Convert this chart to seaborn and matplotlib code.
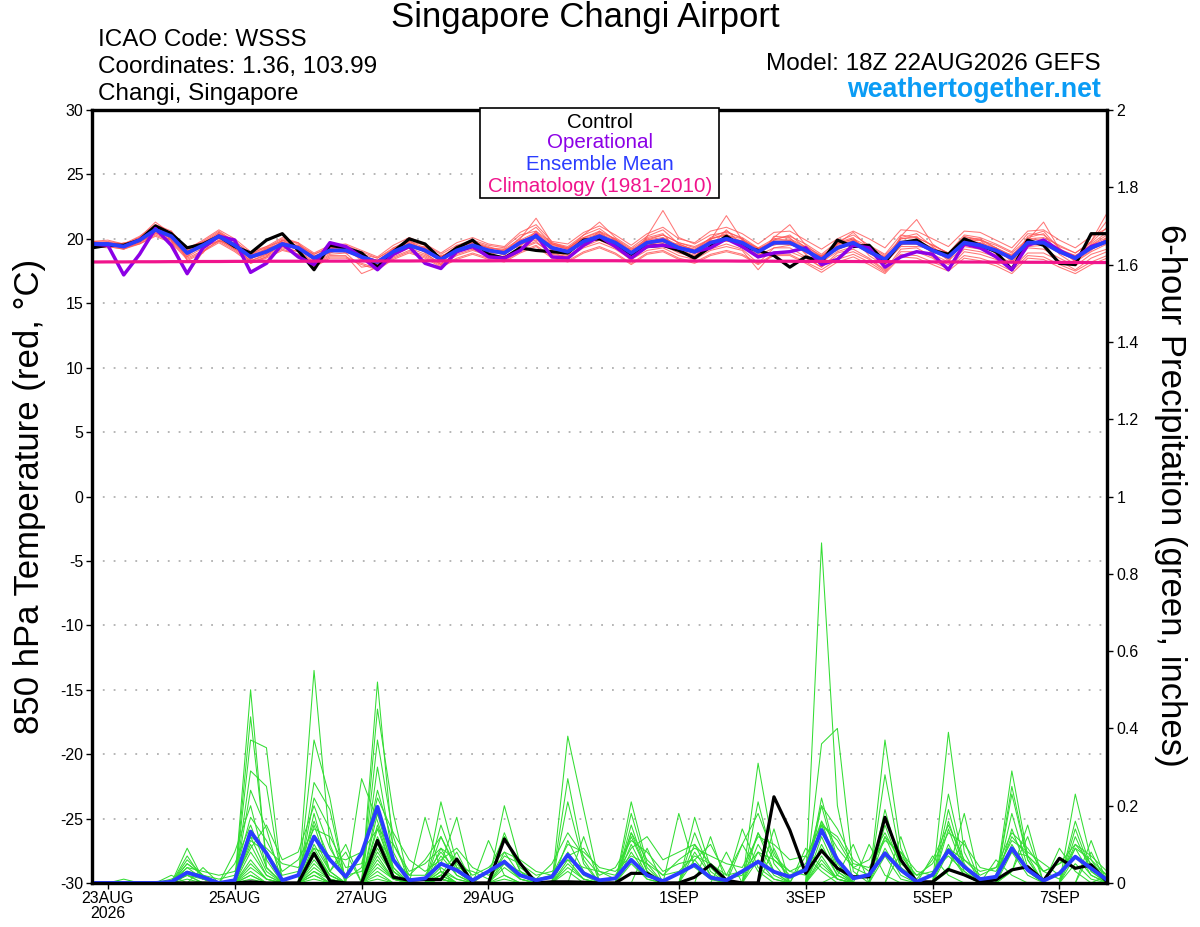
import numpy as np
import pandas as pd
import matplotlib
matplotlib.use("Agg")
import matplotlib.pyplot as plt
import seaborn as sns
from matplotlib.patches import Rectangle

# ---------------- data ----------------
run_start = "2026-08-22 18:00"
n_steps = 65
tick_dates = ["2026-08-23", "2026-08-25", "2026-08-27", "2026-08-29",
              "2026-09-01", "2026-09-03", "2026-09-05", "2026-09-07"]
tick_labels = ["23AUG\n2026", "25AUG", "27AUG", "29AUG", "1SEP", "3SEP", "5SEP", "7SEP"]
temp_ticks = [30, 25, 20, 15, 10, 5, 0, -5, -10, -15, -20, -25, -30]
precip_ticks = [0, 0.2, 0.4, 0.6, 0.8, 1, 1.2, 1.4, 1.6, 1.8, 2]
precip_ticklabels = ["0", "0.2", "0.4", "0.6", "0.8", "1", "1.2", "1.4", "1.6", "1.8", "2"]

# 850 hPa temperature, tenths of deg C
temp_control = [193,195,195,199,210,204,193,196,202,194,189,199,204,191,176,195,193,189,178,190,200,196,184,
                193,199,188,185,193,191,190,189,199,200,195,188,194,195,191,185,194,202,194,191,187,
                178,186,182,199,194,195,182,197,199,191,188,200,195,190,176,199,195,181,180,204,204]
temp_operational = [196,195,172,188,208,195,173,193,202,199,174,181,196,186,180,197,194,186,176,188,194,181,177,
                    190,194,186,185,191,203,186,185,195,202,194,185,194,195,193,190,193,200,194,186,189,
                    190,193,180,184,195,193,178,186,190,188,176,196,193,186,176,195,199,191,185,194,198]
temp_mean = [196,196,194,199,207,202,189,195,202,195,186,190,196,193,185,191,191,186,182,190,195,191,184,
             191,195,191,189,197,202,193,190,198,202,197,189,197,199,193,190,197,200,197,190,197,
             197,191,184,193,197,190,184,197,197,191,186,197,195,191,185,197,197,190,185,193,198]
temp_climatology = [18.20,18.21,18.21,18.22,18.22,18.23,18.23,18.24,18.24,18.25,
                    18.25,18.26,18.26,18.26,18.27,18.27,18.27,18.28,18.28,18.28,
                    18.28,18.29,18.29,18.29,18.29,18.29,18.30,18.30,18.30,18.30,
                    18.30,18.30,18.30,18.30,18.29,18.29,18.29,18.29,18.28,18.28,
                    18.28,18.27,18.27,18.26,18.26,18.25,18.25,18.24,18.24,18.23,
                    18.23,18.22,18.22,18.21,18.21,18.20,18.20,18.19,18.19,18.18,
                    18.18,18.17,18.17,18.16,18.16]
temp_members = [
    [197,198,196,201,213,204,187,197,205,196,184,192,199,194,183,193,194,188,180,192,198,193,186,
     193,198,194,190,201,209,196,192,203,208,199,188,202,207,196,191,201,206,200,188,199,
     203,193,182,196,205,193,182,201,204,194,184,201,200,193,183,202,206,192,183,198,214],
    [195,194,192,197,205,199,172,190,199,193,183,188,194,190,181,188,189,178,180,187,193,188,181,
     188,192,188,186,193,198,188,186,194,199,193,185,193,195,189,186,192,196,192,181,193,
     193,186,178,189,192,185,176,192,193,186,180,192,190,186,178,193,192,185,179,188,192],
    [197,197,195,200,209,203,191,197,204,198,188,192,197,195,188,194,192,185,183,192,197,192,186,
     194,197,193,192,200,216,197,193,201,205,200,190,199,203,197,194,200,203,198,187,201,
     211,195,186,196,200,189,181,202,215,196,188,198,199,193,187,199,200,190,183,191,201],
    [196,197,195,198,206,201,190,194,201,194,187,189,195,192,184,190,190,187,183,189,194,190,183,
     190,194,190,188,196,201,192,189,197,201,196,188,196,198,192,189,196,199,196,190,196,
     196,190,185,192,196,189,185,196,196,190,185,196,194,190,184,196,196,189,186,192,197],
    [198,197,195,201,210,205,193,198,206,198,189,193,200,196,188,193,195,190,185,193,198,195,188,
     195,199,195,193,203,206,197,194,203,213,201,193,202,222,201,196,203,205,201,193,200,
     202,196,188,198,203,195,188,203,201,195,189,203,201,196,190,204,203,194,189,198,220],
    [195,195,193,197,204,199,186,193,199,192,183,187,193,190,180,187,187,173,178,186,191,187,180,
     187,191,187,184,192,197,189,186,193,197,192,184,191,193,187,184,191,194,191,176,190,
     190,185,178,187,190,184,175,190,190,185,177,190,188,184,177,189,189,183,176,185,190],
    [197,196,194,200,208,202,190,196,203,196,187,191,197,194,186,192,192,187,183,191,196,192,185,
     192,196,192,190,198,204,195,192,200,204,199,191,199,201,195,192,199,218,199,192,198,
     199,193,186,195,199,192,186,198,199,193,188,199,197,193,187,199,213,192,187,195,201],
    [195,196,193,198,206,201,188,195,201,194,185,189,195,192,184,190,190,185,181,189,194,190,183,
     190,194,190,188,196,201,192,189,197,201,196,188,196,198,192,189,196,199,196,189,196,
     196,190,183,192,196,189,183,196,196,190,185,196,194,190,184,196,196,189,184,192,197],
    [198,199,196,202,211,206,192,199,207,200,190,194,201,197,189,195,196,191,186,195,201,196,189,
     197,201,196,194,205,211,198,196,205,210,203,195,204,209,200,197,206,209,204,196,205,
     206,199,192,200,206,200,193,207,206,200,194,206,205,199,193,206,207,199,193,202,208],
    [194,195,193,196,203,198,185,191,198,191,182,186,192,188,179,186,186,181,177,185,190,186,179,
     185,189,185,183,190,195,186,183,190,194,189,181,189,191,185,182,188,191,188,181,188,
     188,182,176,184,188,182,174,188,187,182,177,187,185,181,175,187,186,180,175,182,187],
    [197,197,195,199,207,203,190,195,202,196,187,191,196,194,186,191,192,186,182,190,196,192,185,
     192,196,192,189,198,203,194,191,199,203,198,190,198,200,194,191,198,201,198,191,198,
     198,192,185,194,198,191,185,198,198,192,187,198,196,192,186,198,198,191,186,194,199],
    [196,195,194,199,208,202,189,195,203,195,186,190,196,193,185,191,191,186,182,190,195,191,184,
     191,195,191,189,197,202,193,190,198,202,197,189,197,199,193,190,197,200,197,190,197,
     197,191,184,193,197,190,184,197,197,191,186,197,195,191,185,197,197,190,185,193,198],
    [195,196,195,199,206,203,190,196,202,196,186,191,197,193,186,192,191,187,183,191,196,190,184,
     192,195,190,190,196,203,194,189,199,201,198,188,198,198,194,189,198,199,198,189,198,
     196,192,183,194,196,191,183,198,196,192,185,198,194,192,184,198,196,191,184,194,197],
    [194,194,192,196,202,197,184,190,197,190,181,185,191,188,178,185,185,180,176,184,189,185,178,
     184,188,184,182,189,194,185,182,189,193,188,180,188,190,184,181,187,190,187,180,187,
     187,181,174,182,186,180,173,186,185,180,175,185,183,179,173,185,184,178,173,180,185],
    [196,197,194,199,207,202,189,196,202,195,186,190,197,193,185,191,192,186,182,190,196,191,185,
     191,196,191,190,197,202,193,191,198,203,197,189,197,200,193,191,197,200,197,190,197,
     198,191,185,193,198,190,185,197,198,191,186,197,196,191,185,197,198,190,186,193,199],
    [197,196,195,200,208,203,190,196,203,196,187,191,197,194,186,192,192,187,183,191,196,192,185,
     193,197,193,191,199,205,196,193,201,206,200,192,200,203,197,193,200,203,200,192,199,
     200,194,187,196,200,194,187,200,201,195,189,200,199,195,189,200,201,195,189,197,209],
    [194,193,197,198,204,206,183,189,205,198,181,186,199,197,183,189,195,184,178,193,199,189,180,
     195,192,187,192,194,206,190,187,195,206,194,183,201,204,190,186,200,204,194,185,202,
     201,188,180,197,201,187,179,200,202,188,182,202,199,188,181,201,204,188,180,196,205],
    [198,196,192,201,206,200,186,198,200,192,188,194,198,191,182,195,189,188,185,192,193,194,186,
     189,197,193,187,199,200,196,192,201,199,195,192,195,196,195,188,199,198,199,193,195,
     199,189,187,191,199,192,183,195,199,189,188,195,197,189,188,195,199,192,183,195,203],
    [195,197,196,197,211,199,188,194,198,197,184,193,194,195,187,189,193,183,181,188,197,190,187,
     190,193,189,190,195,203,191,188,200,200,199,187,194,201,192,187,194,207,195,187,193,
     195,194,182,190,194,194,181,194,194,193,183,194,192,193,182,194,195,193,182,190,196],
    [196,195,195,200,209,200,191,193,204,194,185,188,199,192,186,193,190,188,180,191,194,193,182,
     192,194,190,191,196,199,194,190,196,204,196,190,196,197,196,191,196,201,196,192,196,
     198,190,186,194,196,191,186,196,198,191,187,196,196,190,186,198,196,191,187,192,200],
]

# 6-hour precipitation, inches
precip_control = [0,0,0,0,0,0,0,0,0,0,0.003,0,0,0,0.077,0.005,0,0,0.11,0.015,0.007,0.009,0.009,
                  0.062,0,0,0.114,0.051,0,0.003,0.003,0.002,0,0,0.025,0.025,0,0,0.015,0.047,0.007,0,0,0.223,
                  0.137,0.025,0.084,0.038,0.016,0.016,0.17,0.06,0.003,0.003,0.035,0.021,0.003,0.008,0.034,0.042,0.006,0.064,0.038,0.047,0.003]
precip_mean = [0,0,0,0,0,0.003,0.027,0.015,0,0.007,0.133,0.077,0.007,0.02,0.12,0.06,0.016,0.077,0.197,0.06,0.007,0.012,0.05,
               0.033,0.007,0.03,0.055,0.02,0.007,0.016,0.073,0.025,0.007,0.012,0.06,0.02,0.005,0.025,0.047,0.014,0.007,0.03,0.055,0.029,
               0.016,0.034,0.137,0.06,0.012,0.021,0.077,0.034,0.003,0.021,0.084,0.042,0.01,0.016,0.09,0.034,0.006,0.025,0.068,0.038,0.008]
# members in hundredths of an inch
precip_members = [
    [0, 0,0,0,0, 0,9,1,0, 0,50,4,0, 0,10,3,0, 0,20,4,0, 0,7,2,0, 0,8,2,0, 0,5,1,0, 0,8,2,0, 0,0,0,0, 0,0,0,0, 0,22,6,0, 0,0,0,0, 0,0,0,0, 0,10,3,0, 0,0,0,0],
    [0, 0,0,0,0, 0,7,1,0, 0,43,6,0, 0,8,2,0, 0,18,3,0, 0,5,17,0, 0,0,0,0, 0,4,1,0, 0,6,1,0, 0,0,0,0, 0,0,0,0, 0,20,5,0, 0,37,9,0, 0,0,0,0, 6,2,0,0, 0,5,1,0],
    [0, 0,0,0,0, 0,5,2,0, 0,37,35,0, 0,6,1,0, 0,15,3,0, 0,4,1,0, 0,6,1,0, 0,3,0,0, 0,0,0,0, 0,17,4,0, 0,0,0,0, 0,16,4,0, 0,28,6,0, 0,0,0,0, 0,8,2,0, 0,0,0,0],
    [0, 0,0,0,0, 0,4,1,0, 0,29,25,0, 0,5,1,0, 0,12,3,0, 0,2,8,0, 0,0,0,0, 0,0,12,0, 0,5,1,0, 0,13,3,0, 0,0,0,0, 0,15,3,0, 0,0,0,0, 0,39,8,0, 0,0,0,0, 0,0,0,0],
    [0, 0,0,0,0, 0,3,1,0, 0,24,14,0, 0,55,10,0, 0,10,2,0, 0,1,0,0, 0,5,1,0, 0,0,0,0, 0,0,9,0, 0,0,0,0, 0,13,3,0, 9,4,1,0, 0,19,4,0, 0,0,0,0, 0,0,0,0, 0,0,0,0],
    [0, 0,0,0,0, 0,6,2,0, 8,20,4,0, 0,4,1,0, 0,14,3,0, 0,2,0,0, 0,20,5,0, 0,0,0,0, 0,0,0,0, 0,10,2,0, 0,10,3,0, 7,3,0,0, 0,15,4,0, 0,0,0,0, 0,0,0,0, 0,7,2,0],
    [0, 0,0,0,0, 0,2,0,0, 5,15,4,0, 0,3,1,0, 0,52,8,0, 0,1,0,0, 0,2,0,0, 0,0,0,0, 0,0,0,0, 0,8,2,0, 0,8,2,0, 0,0,2,10, 0,12,3,0, 0,0,0,0, 0,0,0,0, 0,0,0,2],
    [0, 0,0,0,0, 0,3,1,0, 0,12,3,0, 0,37,22,0, 0,9,2,0, 0,2,0,0, 0,4,1,0, 0,0,0,0, 0,0,0,0, 0,6,1,0, 0,0,0,0, 0,12,3,0, 0,0,0,0, 0,23,5,0, 0,0,0,0, 0,0,8,0],
    [0, 0,0,0,0, 0,2,0,0, 0,10,2,0, 0,26,19,0, 0,8,2,0, 0,3,1,0, 0,13,3,0, 0,0,0,0, 0,0,0,0, 18,4,1,0, 0,6,1,0, 0,0,0,0, 0,9,2,0, 0,0,0,0, 0,29,7,0, 0,0,0,0],
    [0, 0,0,0,0, 0,1,0,0, 0,8,2,0, 0,22,14,0, 0,6,1,0, 0,2,0,0, 11,2,0,0, 0,38,19,0, 0,0,0,0, 0,0,0,0, 0,0,0,0, 0,10,2,0, 0,7,1,0, 0,0,0,0, 0,0,0,0, 0,23,6,0],
    [0, 0,0,0,0, 2,0,0,0, 0,6,1,0, 0,18,3,10, 0,5,1,0, 0,1,0,0, 0,0,0,0, 0,27,6,0, 0,0,0,0, 0,0,12,0, 0,0,0,0, 0,9,2,0, 0,0,12,0, 0,19,4,0, 0,0,0,0, 0,0,11,0],
    [0, 0,0,0,0, 0,0,4,0, 0,5,1,0, 0,15,3,8, 0,4,1,0, 0,3,0,0, 0,12,3,0, 0,21,5,0, 0,0,0,0, 0,0,0,8, 0,0,0,0, 0,7,1,0, 0,0,8,0, 0,0,0,0, 0,25,6,0, 0,0,0,0],
    [0, 0,0,0,0, 0,0,0,0, 0,4,1,0, 0,12,3,0, 27,16,4,0, 0,1,0,0, 0,0,0,0, 0,11,3,0, 0,0,0,0, 0,0,0,0, 0,31,8,0, 0,6,1,0, 0,0,0,0, 0,16,4,0, 0,0,0,0, 9,3,0,0],
    [0, 0,0,0,0, 0,0,0,0, 0,3,0,0, 0,7,2,0, 0,45,18,0, 0,2,0,0, 0,1,0,0, 0,8,2,0, 0,0,0,0, 0,0,0,0, 0,21,5,0, 0,5,1,0, 0,0,0,0, 0,14,3,0, 0,0,0,0, 0,16,4,0],
    [0, 0,0,0,0, 0,0,0,0, 0,2,0,0, 0,9,2,0, 0,37,12,0, 0,1,0,0, 0,0,0,0, 0,6,1,0, 0,21,5,0, 0,0,0,0, 10,3,0,0, 0,0,0,0, 10,2,0,0, 0,10,2,0, 0,23,6,0, 0,0,0,0],
    [0, 0,0,0,0, 0,0,0,0, 0,2,0,0, 0,2,0,0, 0,30,6,0, 17,3,0,0, 0,0,0,0, 0,0,0,0, 0,18,4,0, 0,0,0,0, 14,4,1,0, 0,0,0,0, 0,0,0,0, 0,8,2,0, 0,3,15,0, 0,14,3,0],
    [0, 0,0,0,0, 0,0,0,0, 0,1,0,0, 0,3,0,0, 0,7,1,0, 0,21,5,0, 0,0,0,0, 0,0,0,0, 0,15,3,0, 0,0,0,0, 0,0,14,0, 0,0,0,0, 0,0,0,0, 0,3,18,0, 0,3,12,0, 0,0,0,0],
    [0, 0,0,0,0, 0,0,0,0, 0,0,0,0, 0,1,0,0, 0,3,0,0, 0,15,4,0, 0,0,0,0, 0,0,0,0, 0,13,3,0, 0,0,0,0, 0,0,9,0, 0,0,0,0, 0,0,0,0, 0,4,11,0, 0,18,4,0, 0,0,0,0],
    [0, 0,0,0,0, 0,0,0,0, 0,0,0,0, 0,0,0,0, 0,2,0,0, 0,12,3,0, 0,0,0,0, 0,0,0,0, 0,12,3,0, 0,0,0,0, 0,0,0,0, 0,88,20,0, 0,0,0,0, 7,2,0,0, 0,0,0,0, 0,12,3,0],
    [0, 0,1,0,0, 0,0,0,0, 0,0,0,0, 0,2,0,0, 0,1,0,0, 0,9,2,0, 0,0,0,0, 0,0,0,0, 0,10,2,0, 0,0,0,0, 0,0,0,0, 0,36,40,3, 0,0,0,0, 0,0,0,0, 0,14,3,0, 0,9,2,0],
    [0, 0,0,0,0, 0,4,3,2, 3,12,9,5, 4,9,7,6, 8,14,10,3, 5,9,6,2, 4,8,6,3, 2,10,8,4, 3,7,5,2, 6,9,7,5, 4,12,10,6, 7,15,12,5, 4,11,8,3, 2,9,6,3, 4,8,7,3, 5,7,4,0],
    [0, 0,0,0,0, 1,3,2,1, 2,17,11,3, 6,14,12,4, 5,22,13,6, 3,6,9,4, 2,5,3,1, 5,13,7,2, 4,11,8,3, 5,6,10,2, 3,8,6,2, 4,20,14,6, 3,12,7,2, 5,13,10,4, 3,11,8,5, 2,9,6,2],
    [0, 0,0,0,0, 0,2,1,0, 1,9,15,6, 8,20,9,2, 3,11,6,2, 6,12,4,3, 1,7,5,2, 3,6,4,3, 2,9,12,6, 8,10,5,2, 10,18,7,3, 5,16,9,4, 2,8,4,1, 6,15,6,2, 4,13,9,3, 5,10,7,3],
    [0, 0,0,0,0, 0,5,2,0, 0,11,8,2, 3,16,6,1, 4,24,10,2, 2,8,3,0, 3,12,4,1, 2,7,9,3, 1,13,6,2, 3,7,5,1, 2,13,6,3, 2,15,11,4, 6,13,5,2, 3,7,3,0, 2,12,7,3, 1,10,5,2],
]

# ---------------- build frames ----------------
times = pd.date_range(run_start, periods=n_steps, freq="6h")
temp_df = pd.DataFrame([
    {"time": t, "member": m, "value": v / 10.0}
    for m, row in enumerate(temp_members) for t, v in zip(times, row)
])
precip_df = pd.DataFrame([
    {"time": t, "member": m, "value": v / 100.0}
    for m, row in enumerate(precip_members) for t, v in zip(times, row)
])

# ---------------- styling ----------------
sns.set_style("ticks")
plt.rcParams["font.family"] = ["Liberation Sans", "DejaVu Sans"]
plt.rcParams["text.color"] = "black"
plt.rcParams["xtick.color"] = "black"
plt.rcParams["ytick.color"] = "black"
plt.rcParams["xtick.labelcolor"] = "black"
plt.rcParams["ytick.labelcolor"] = "black"

RED = "#ff5555"
GREEN = "#33dd33"
PURPLE = "#8c00e6"
BLUE = "#2a3cff"
PINK = "#f0148c"

W, H = 1200, 927
fig = plt.figure(figsize=(W / 100, H / 100), dpi=100)
ax = fig.add_axes([92 / W, 1 - 883 / H, (1107 - 92) / W, (883 - 110) / H])
ax2 = ax.twinx()

# temperature (left axis)
sns.lineplot(data=temp_df, x="time", y="value", units="member", estimator=None,
             color=RED, lw=0.75, alpha=0.8, ax=ax)
sns.lineplot(x=times, y=np.array(temp_control) / 10, color="black", lw=2.3, ax=ax)
sns.lineplot(x=times, y=np.array(temp_operational) / 10, color=PURPLE, lw=2.5, ax=ax)
sns.lineplot(x=times, y=np.array(temp_mean) / 10, color=BLUE, lw=2.8, ax=ax)
sns.lineplot(x=times, y=temp_climatology, color=PINK, lw=2.3, ax=ax)

# precipitation (right axis)
sns.lineplot(data=precip_df, x="time", y="value", units="member", estimator=None,
             color=GREEN, lw=0.75, ax=ax2)
sns.lineplot(x=times, y=precip_control, color="black", lw=2.3, ax=ax2)
sns.lineplot(x=times, y=precip_mean, color=BLUE, lw=2.8, ax=ax2)

# axes
ax.set_xlim(times[0], times[-1])
ax.set_ylim(-30, 30)
ax2.set_ylim(0, 2)
ax.set_xticks(pd.to_datetime(tick_dates))
ax.set_xticklabels(tick_labels, fontsize=11.5, linespacing=1.0)
ax.set_yticks(temp_ticks)
ax.set_yticklabels([str(v) for v in temp_ticks], fontsize=11.5)
ax2.set_yticks(precip_ticks)
ax2.set_yticklabels(precip_ticklabels, fontsize=11.5)
for a in (ax, ax2):
    a.set_xlabel("")
    a.set_ylabel("")
    for s in a.spines.values():
        s.set_linewidth(2.3)
        s.set_color("black")
        s.set_visible(True)
ax.tick_params(axis="both", direction="out", length=4, width=1, colors="black", pad=2)
ax2.tick_params(axis="y", direction="out", length=4, width=1, colors="black", pad=3)
ax.yaxis.grid(True, color="#b0b0b0", linestyle=(0, (1, 5)), linewidth=1.3)
ax.set_axisbelow(True)

# header texts
fig.text(585 / W, 1 - 18 / H, "Singapore Changi Airport", ha="center", va="center", fontsize=25)
fig.text(98 / W, 1 - 40 / H, "ICAO Code: WSSS", ha="left", va="center", fontsize=17.5)
fig.text(98 / W, 1 - 67 / H, "Coordinates: 1.36, 103.99", ha="left", va="center", fontsize=17.5)
fig.text(98 / W, 1 - 94 / H, "Changi, Singapore", ha="left", va="center", fontsize=17.5)
fig.text(1101 / W, 1 - 64 / H, "Model: 18Z 22AUG2026 GEFS", ha="right", va="center", fontsize=17.5)
fig.text(1101 / W, 1 - 90 / H, "weathertogether.net", ha="right", va="center", fontsize=19.3,
         fontweight="bold", color="#0a9cf5")

# axis titles
fig.text(30 / W, 1 - 496 / H, "850 hPa Temperature (red, °C)", rotation=90,
         ha="center", va="center", fontsize=25)
fig.text(1170 / W, 1 - 495 / H, "6-hour Precipitation (green, inches)", rotation=270,
         ha="center", va="center", fontsize=25)

# legend box
fig.patches.append(Rectangle((480 / W, 1 - 198 / H), 239 / W, 90 / H, transform=fig.transFigure,
                             facecolor="white", edgecolor="black", lw=1.2, zorder=5))
legend_items = [("Control", "black", 122), ("Operational", PURPLE, 143),
                ("Ensemble Mean", BLUE, 164), ("Climatology (1981-2010)", PINK, 186)]
for label, col, yy in legend_items:
    fig.text(600 / W, 1 - yy / H, label, ha="center", va="center", fontsize=14.8, color=col, zorder=6)

fig.savefig("out.png", dpi=100)
